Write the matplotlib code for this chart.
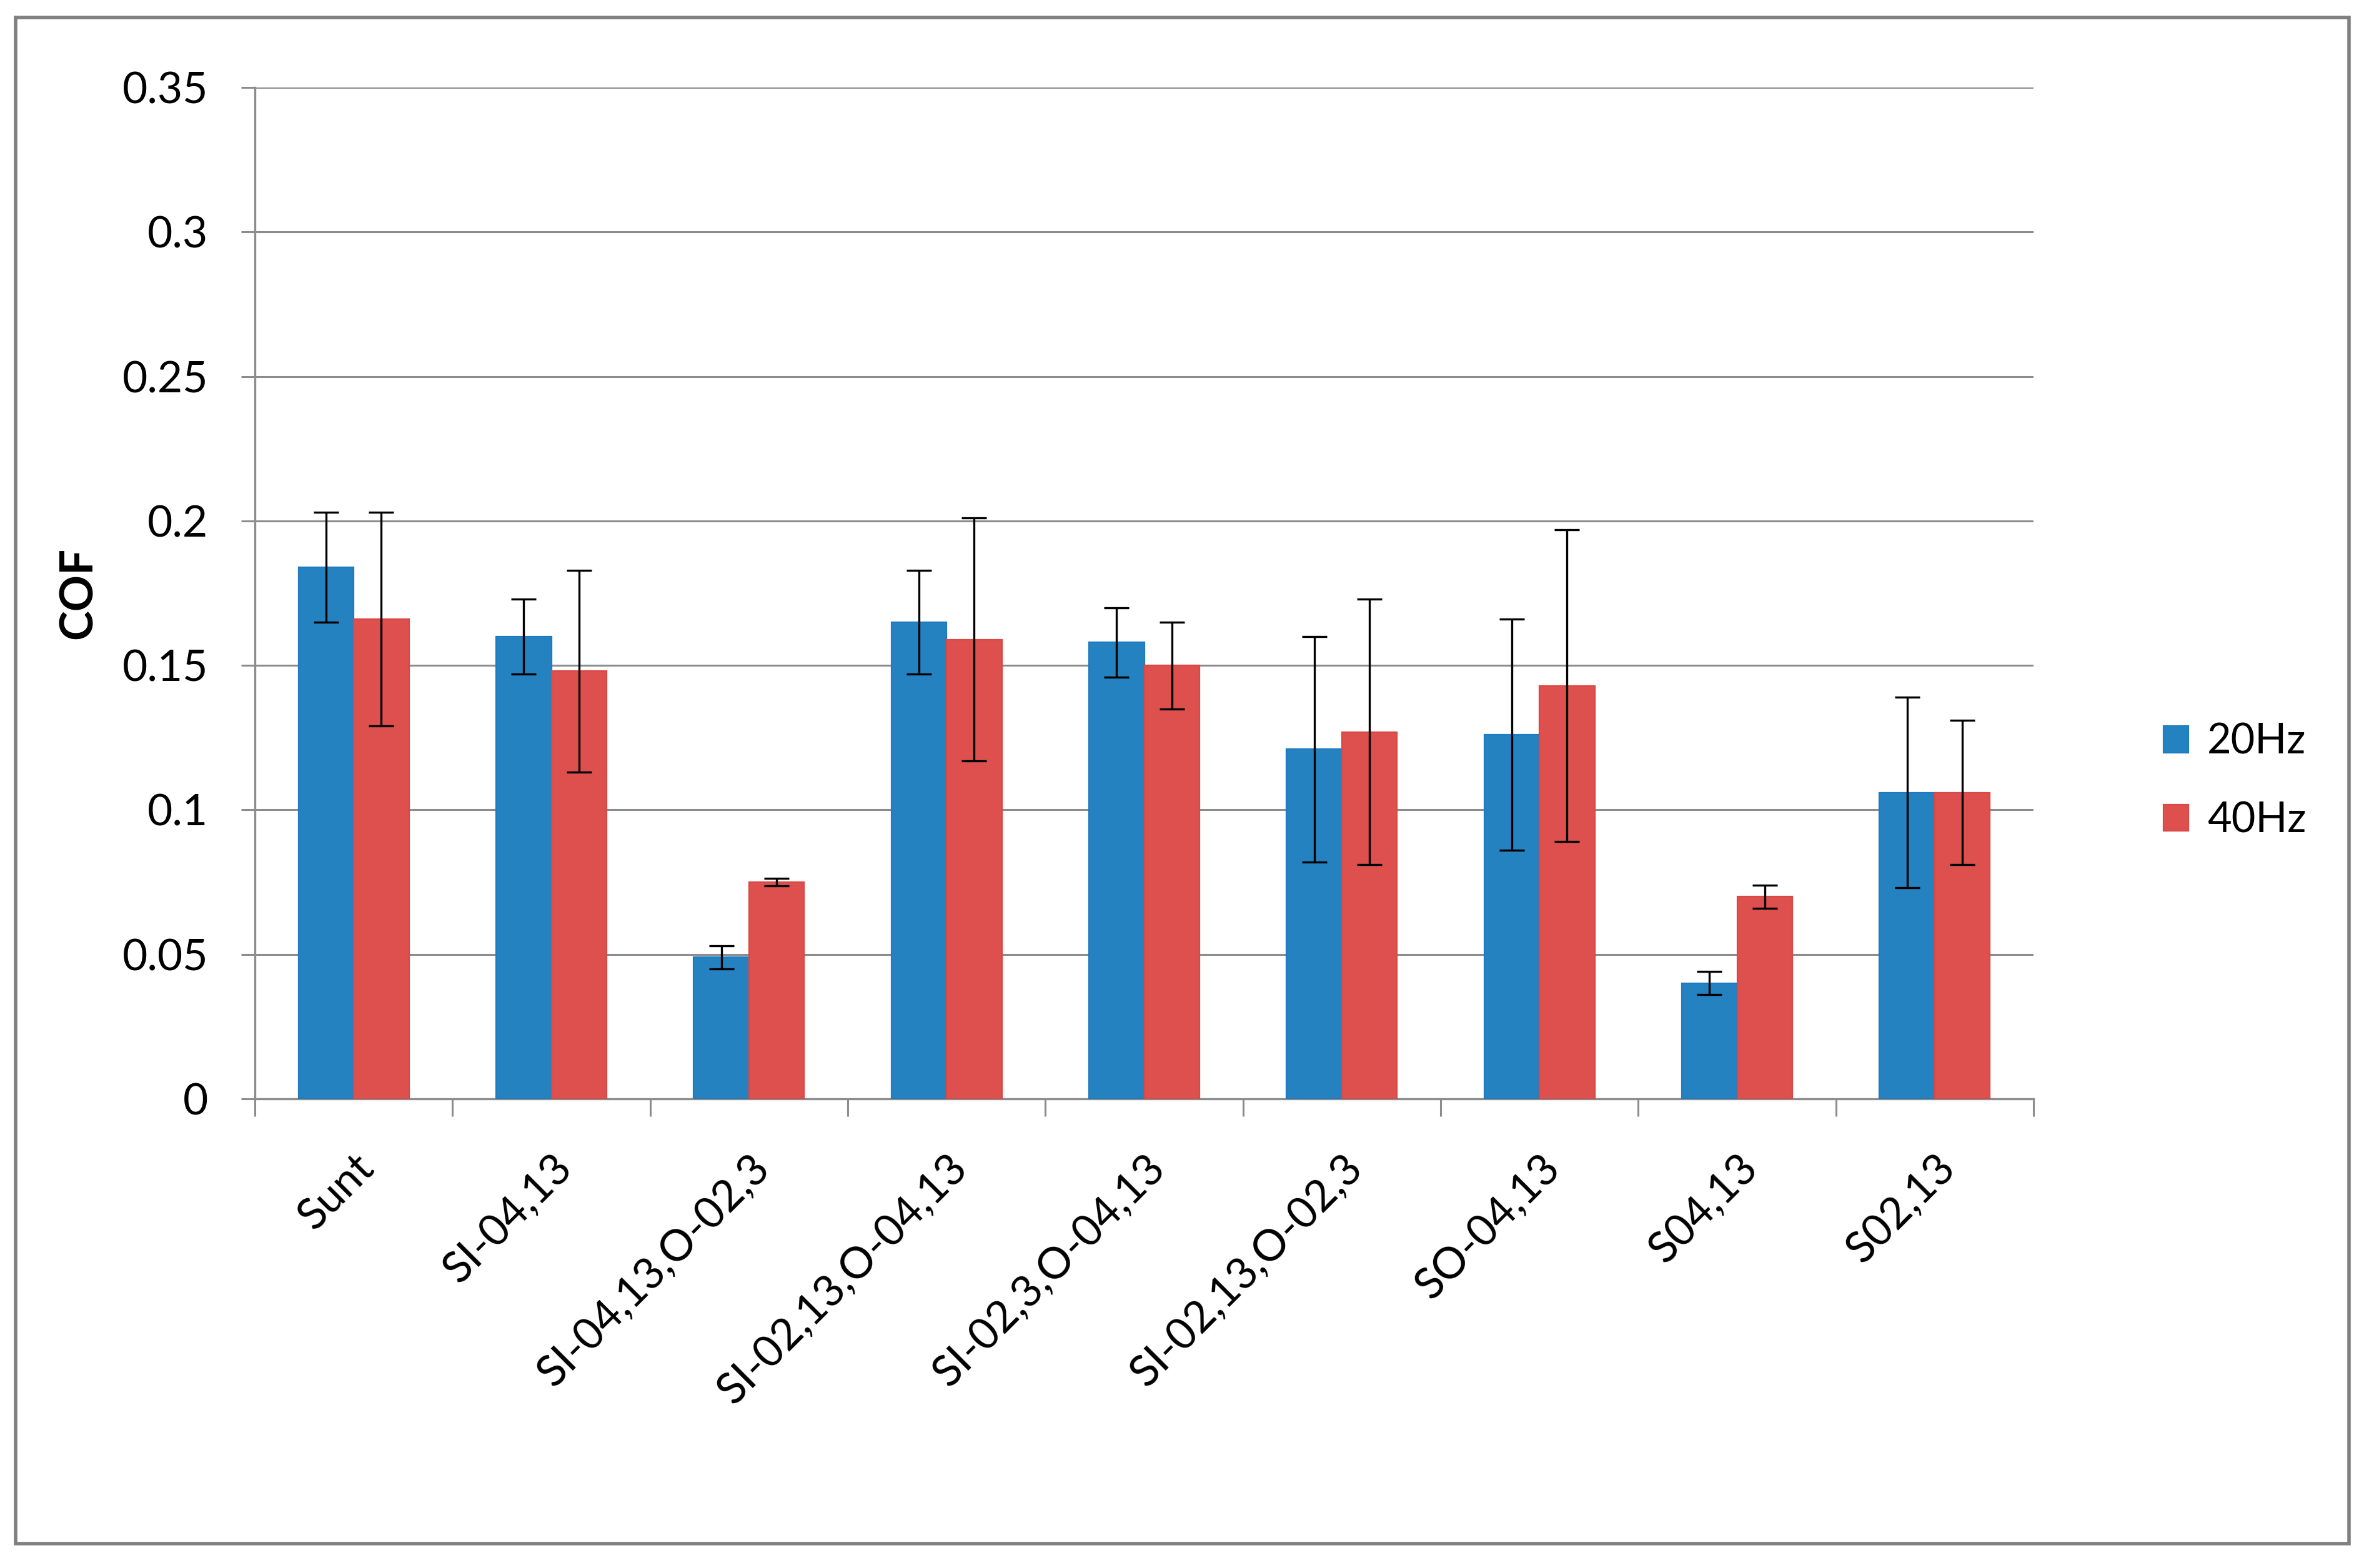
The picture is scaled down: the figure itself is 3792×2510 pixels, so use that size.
import matplotlib.pyplot as plt
from matplotlib.patches import Rectangle
import numpy as np

plt.rcParams['font.family'] = ['Lato', 'DejaVu Sans']

categories = ['Sunt', 'SI-04,13', 'SI-04,13,O-02,3', 'SI-02,13,O-04,13',
              'SI-02,3,O-04,13', 'SI-02,13,O-02,3', 'SO-04,13', 'S04,13', 'S02,13']
cof_20hz = [0.184, 0.160, 0.049, 0.165, 0.158, 0.121, 0.126, 0.040, 0.106]
err_20hz = [0.019, 0.013, 0.004, 0.018, 0.012, 0.039, 0.040, 0.004, 0.033]
cof_40hz = [0.166, 0.148, 0.075, 0.159, 0.150, 0.127, 0.143, 0.070, 0.106]
err_40hz = [0.037, 0.035, 0.0013, 0.042, 0.015, 0.046, 0.054, 0.004, 0.025]
y_ticks = [0, 0.05, 0.1, 0.15, 0.2, 0.25, 0.3, 0.35]
y_tick_labels = ['0', '0.05', '0.1', '0.15', '0.2', '0.25', '0.3', '0.35']

blue = '#2482C1'
red = '#DD504E'
grid_col = '#8C8C8C'

fig = plt.figure(figsize=(18.96, 12.55), dpi=200)
ax = fig.add_axes([0.1076, 0.2992, 0.7508, 0.645])

x = np.arange(len(categories))
w = 0.28
ax.bar(x - w / 2, cof_20hz, w, color=blue, edgecolor='#1F7BC0', linewidth=0.8,
       label='20Hz', zorder=3)
ax.bar(x + w / 2, cof_40hz, w, color=red, edgecolor='#D94845', linewidth=0.8,
       label='40Hz', zorder=3)
ax.errorbar(x - w / 2, cof_20hz, yerr=err_20hz, fmt='none', ecolor='black',
            elinewidth=1.2, capsize=7.2, capthick=1.2, zorder=4)
ax.errorbar(x + w / 2, cof_40hz, yerr=err_40hz, fmt='none', ecolor='black',
            elinewidth=1.2, capsize=7.2, capthick=1.2, zorder=4)

ax.set_xlim(-0.5, len(categories) - 0.5)
ax.set_ylim(0, 0.35)
ax.set_yticks(y_ticks)
ax.set_yticklabels(y_tick_labels, fontsize=25)
ax.yaxis.grid(True, color=grid_col, linewidth=1.1, zorder=0)
ax.set_axisbelow(True)

# category boundaries as major ticks, labels on minor ticks
ax.set_xticks(np.arange(len(categories) + 1) - 0.5)
ax.set_xticklabels([])
ax.set_xticks(x, minor=True)
ax.set_xticklabels(categories, minor=True, rotation=45, ha='right',
                   rotation_mode='anchor', fontsize=25)
ax.tick_params(axis='x', which='major', length=10, width=1.1, color=grid_col)
ax.tick_params(axis='x', which='minor', length=0, pad=28)
ax.tick_params(axis='y', length=8, width=1.1, color=grid_col, pad=19)

for s in ['top', 'right']:
    ax.spines[s].set_visible(False)
for s in ['left', 'bottom']:
    ax.spines[s].set_color(grid_col)
    ax.spines[s].set_linewidth(1.2)

ax.set_ylabel('COF', fontsize=26, fontweight='bold', labelpad=13)

ax.legend(loc='center left', bbox_to_anchor=(1.073, 0.314), frameon=False,
          fontsize=24, handlelength=0.6, handleheight=0.6, handletextpad=0.45,
          labelspacing=0.95, borderpad=0, borderaxespad=0)

fig.patches.append(Rectangle((25 / 3792, 1 - 2471 / 2510), (3760 - 25) / 3792,
                             (2471 - 28) / 2510, transform=fig.transFigure,
                             fill=False, edgecolor='#808080', linewidth=2.0))

fig.savefig('out.png', dpi=200, facecolor='white')
